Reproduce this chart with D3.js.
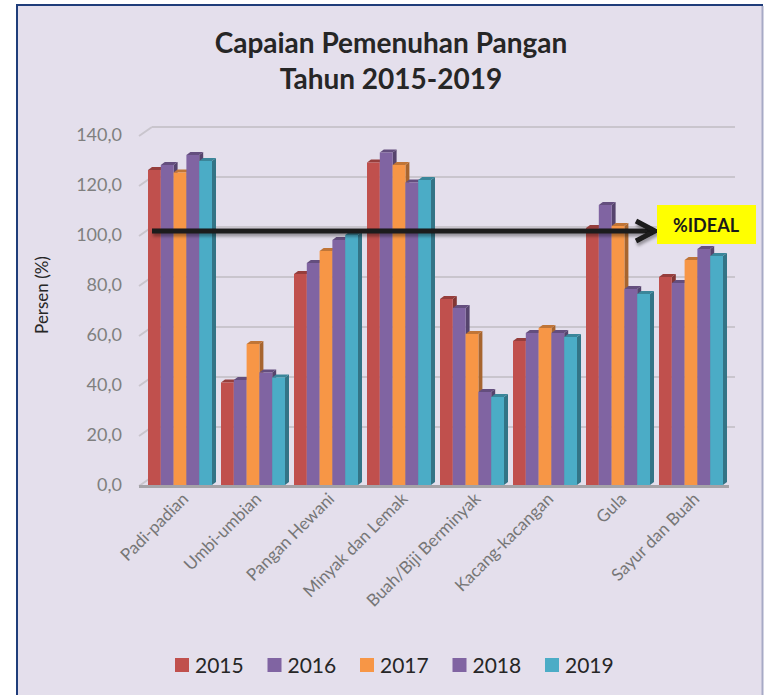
<!DOCTYPE html>
<html>
<head>
<meta charset="utf-8">
<script src="https://cdn.jsdelivr.net/npm/d3@7"></script>
<style>
    body { margin: 0; background: #fff; }
    text { font-family: Lato, "Open Sans", sans-serif; }
</style>
</head>
<body>
<svg id="chart" width="764" height="695"></svg>
<script>
const categories = ["Padi-padian", "Umbi-umbian", "Pangan Hewani", "Minyak dan Lemak",
    "Buah/Biji Berminyak", "Kacang-kacangan", "Gula", "Sayur dan Buah"];
const years = ["2015", "2016", "2017", "2018", "2019"];
const colors = ["#c0504d", "#8064a2", "#f79646", "#8064a2", "#4bacc6"];

const v2015 = [126.0, 41.0, 84.4, 129.0, 74.4, 57.6, 102.8, 83.2];
const v2016 = [128.0, 42.0, 88.8, 133.0, 70.8, 60.8, 112.0, 80.8];
const v2017 = [125.0, 56.4, 93.6, 128.0, 60.4, 62.8, 103.6, 90.0];
const v2018 = [132.0, 45.0, 98.0, 121.0, 37.2, 60.8, 78.4, 94.4];
const v2019 = [129.6, 43.0, 100.0, 122.0, 35.2, 59.2, 76.4, 91.6];
const series = [v2015, v2016, v2017, v2018, v2019];

const yTicks = [0, 20, 40, 60, 80, 100, 120, 140];
const ideal = 100;

const svg = d3.select("#chart");

//frame
svg.append("rect").attr("x", 17).attr("y", 5).attr("width", 746).attr("height", 700).attr("fill", "#e4dfec");
svg.append("path").attr("d", "M17,700 V5 H763").attr("fill", "none").attr("stroke", "#1f3d7a").attr("stroke-width", 2);
svg.append("line").attr("x1", 762.5).attr("x2", 762.5).attr("y1", 6).attr("y2", 695).attr("stroke", "#a7aac6").attr("stroke-width", 2);

const defs = svg.append("defs");
defs.append("filter").attr("id", "shadow").attr("x", "-5%").attr("y", "-50%").attr("width", "110%").attr("height", "200%")
    .append("feDropShadow").attr("dx", 1).attr("dy", 3).attr("stdDeviation", 1.5).attr("flood-color", "#000").attr("flood-opacity", 0.35);

//title
svg.append("text").attr("x", 391).attr("y", 53).attr("text-anchor", "middle")
    .attr("font-size", 28).attr("font-weight", "bold").attr("fill", "#262626").text("Capaian Pemenuhan Pangan");
svg.append("text").attr("x", 391).attr("y", 89).attr("text-anchor", "middle")
    .attr("font-size", 28).attr("font-weight", "bold").attr("fill", "#262626").text("Tahun 2015-2019");

//scales
const x = d3.scaleBand().domain(categories).range([143, 727]);
const xYear = d3.scaleBand().domain(years).range([5, x.bandwidth() - 4]);
const y = d3.scaleLinear().domain([0, 140]).range([485, 135]);

const wallDx = 11, wallDy = -8; //depth of the 3d walls
const barDx = 4, barDy = -3;   //depth of a bar

//gridlines on the back wall
const grid = svg.append("g");
yTicks.forEach(t => {
    if (t > 0) {
        grid.append("line")
            .attr("x1", x.range()[0] + wallDx - 2).attr("x2", 735)
            .attr("y1", y(t) + wallDy).attr("y2", y(t) + wallDy)
            .attr("stroke", "#c9c5cd").attr("stroke-width", 2);
    }
    grid.append("line")
        .attr("x1", x.range()[0] - 4).attr("x2", x.range()[0] + wallDx - 2)
        .attr("y1", y(t) + 1).attr("y2", y(t) + wallDy)
        .attr("stroke", "#c9c5cd").attr("stroke-width", 2);
});

//floor
svg.append("line").attr("x1", x.range()[0] - 4).attr("x2", 729)
    .attr("y1", y(0) + 1.5).attr("y2", y(0) + 1.5)
    .attr("stroke", "#a5a3a8").attr("stroke-width", 3);

//y axis labels
svg.append("g").selectAll("text").data(yTicks).join("text")
    .attr("x", 122).attr("y", d => y(d) + 6)
    .attr("text-anchor", "end").attr("font-size", 18).attr("fill", "#7f7f7f")
    .text(d => d3.format(".1f")(d).replace(".", ","));

svg.append("text").attr("transform", `translate(48,${y(76)}) rotate(-90)`)
    .attr("text-anchor", "middle").attr("font-size", 17).attr("fill", "#262626").text("Persen (%)");

//bars
const barData = [];
categories.forEach((c, i) => {
    years.forEach((yr, j) => barData.push({cat: c, year: yr, value: series[j][i], color: colors[j]}));
});

const bars = svg.append("g").selectAll("g").data(barData).join("g");
bars.each(function (d) {
    const g = d3.select(this);
    const x0 = x(d.cat) + xYear(d.year), x1 = x0 + xYear.bandwidth();
    const yt = y(d.value), yb = y(0);
    g.append("path")
        .attr("d", `M${x1},${yb} L${x1 + barDx},${yb + barDy} L${x1 + barDx},${yt + barDy} L${x1},${yt} Z`)
        .attr("fill", d3.color(d.color).darker(1.1));
    g.append("path")
        .attr("d", `M${x0},${yt} L${x0 + barDx},${yt + barDy} L${x1 + barDx},${yt + barDy} L${x1},${yt} Z`)
        .attr("fill", d3.color(d.color).darker(0.7));
    g.append("rect")
        .attr("x", x0).attr("y", yt).attr("width", x1 - x0).attr("height", yb - yt)
        .attr("fill", d.color);
});

//x labels
svg.append("g").selectAll("text").data(categories).join("text")
    .attr("transform", d => `translate(${x(d) + x.bandwidth() / 2 + 10},${y(0) + 15}) rotate(-45)`)
    .attr("text-anchor", "end").attr("font-size", 17).attr("fill", "#767676")
    .text(d => d);

//ideal arrow
const ay = y(ideal) - 4;
const arrow = svg.append("g").attr("filter", "url(#shadow)");
arrow.append("line").attr("x1", x.range()[0] + 9).attr("x2", 654)
    .attr("y1", ay).attr("y2", ay).attr("stroke", "#1a1a1a").attr("stroke-width", 5);
arrow.append("path").attr("d", `M636,${ay - 10} L655,${ay} L636,${ay + 10}`)
    .attr("fill", "none").attr("stroke", "#1a1a1a").attr("stroke-width", 5).attr("stroke-linejoin", "miter");

svg.append("rect").attr("x", 657).attr("y", ay - 26).attr("width", 99).attr("height", 39).attr("fill", "#ffff00");
svg.append("text").attr("x", 706).attr("y", ay + 1).attr("text-anchor", "middle")
    .attr("font-size", 18).attr("font-weight", "bold").attr("fill", "#1a1a1a").text("%IDEAL");

//legend
const legend = svg.append("g").selectAll("g").data(years).join("g")
    .attr("transform", (d, i) => `translate(${175 + i * 92.5},658)`);
legend.append("rect").attr("width", 14).attr("height", 14).attr("fill", (d, i) => colors[i]);
legend.append("text").attr("x", 20).attr("y", 15).attr("font-size", 21).attr("fill", "#262626").text(d => d);
</script>
</body>
</html>
